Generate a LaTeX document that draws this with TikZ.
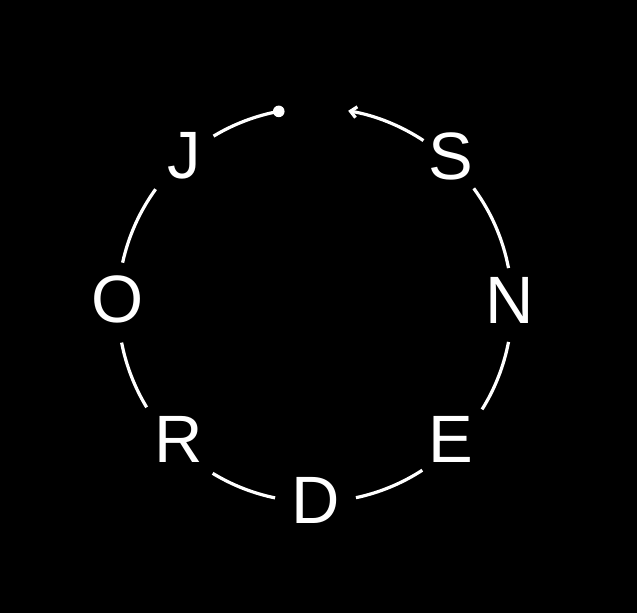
\documentclass[tikz,border=0pt]{standalone}
\usepackage{fontspec}
\setmainfont{Liberation Sans}
\usetikzlibrary{arrows.meta,calc}
\begin{document}
\begin{tikzpicture}[x=1pt,y=1pt,
  letter/.style={text=white,inner sep=0pt,font=\fontsize{67}{67}\selectfont},
  ring/.style={draw=white,line width=3.2pt}]
\fill[black] (0,0) rectangle (637,613);
\useasboundingbox (0,0) rectangle (637,613);
\coordinate (c) at (315,308);
\def\rr{197}
\node[letter] (J) at (184,457) {J};
\node[letter] (O) at (118,314) {O};
\node[letter] (R) at (179,174) {R};
\node[letter] (D) at (316,113) {D};
\node[letter] (E) at (451,174) {E};
\node[letter] (N) at (510,313) {N};
\node[letter] (S) at (451,457) {S};
\coordinate (st) at ($(c)+(100.6:\rr)$);
\coordinate (en) at ($(c)+(80.3:\rr)$);
\fill[white] (st) circle[radius=5.8];
\draw[ring] (st) arc[start angle=100.6,end angle=121,radius=\rr];
\draw[ring] ($(c)+(144:\rr)$) arc[start angle=144,end angle=167.6,radius=\rr];
\draw[ring] ($(c)+(191:\rr)$) arc[start angle=191,end angle=211.3,radius=\rr];
\draw[ring] ($(c)+(238.7:\rr)$) arc[start angle=238.7,end angle=258.3,radius=\rr];
\draw[ring] ($(c)+(282:\rr)$) arc[start angle=282,end angle=303,radius=\rr];
\draw[ring] ($(c)+(328:\rr)$) arc[start angle=328,end angle=349.2,radius=\rr];
\draw[ring] ($(c)+(10.8:\rr)$) arc[start angle=10.8,end angle=36.3,radius=\rr];
\draw[ring,-{Straight Barb[length=6pt,width=11pt]}] ($(c)+(56.6:\rr)$) arc[start angle=56.6,end angle=80.3,radius=\rr];
\end{tikzpicture}
\end{document}
